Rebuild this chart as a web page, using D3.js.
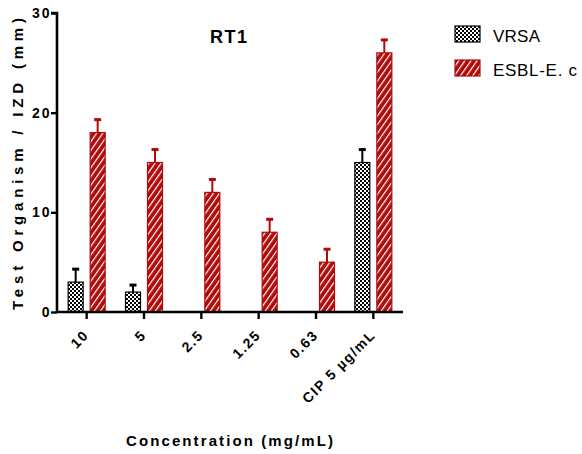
<!DOCTYPE html>
<html><head><meta charset="utf-8">
<script src="https://cdn.jsdelivr.net/npm/d3@7/dist/d3.min.js"></script>
<style>body{margin:0;background:#fff}svg{display:block}</style>
</head><body>
<script>
const categories = ["10", "5", "2.5", "1.25", "0.63", "CIP 5 µg/mL"];
const seriesNames = ["VRSA", "ESBL-E. c"];
const vrsa = [3, 2, 0, 0, 0, 15];
const vrsaErr = [1.4, 0.8, 0, 0, 0, 1.4];
const esbl = [18, 15, 12, 8, 5, 26];
const esblErr = [1.4, 1.4, 1.4, 1.4, 1.4, 1.4];
const yTicks = [0, 10, 20, 30];

const W = 582, H = 454;
const svg = d3.select("body").append("svg").attr("width", W).attr("height", H);
const font = "'Liberation Sans Narrow', 'Liberation Sans', Arial, sans-serif";

const defs = svg.append("defs");
const chk = defs.append("pattern").attr("id", "chk").attr("patternUnits", "userSpaceOnUse")
  .attr("width", 4).attr("height", 4);
chk.append("rect").attr("width", 4).attr("height", 4).attr("fill", "#fff");
chk.append("rect").attr("width", 2).attr("height", 2).attr("fill", "#000");
chk.append("rect").attr("x", 2).attr("y", 2).attr("width", 2).attr("height", 2).attr("fill", "#000");
const red = "#b00a0a";
const str = defs.append("pattern").attr("id", "str").attr("patternUnits", "userSpaceOnUse")
  .attr("width", 5).attr("height", 5).attr("patternTransform", "rotate(35)");
str.append("rect").attr("width", 5).attr("height", 5).attr("fill", red);
str.append("rect").attr("x", 0).attr("width", 1.2).attr("height", 5).attr("fill", "#fff");

const x0 = 57, x1 = 403, yTop = 13, yBot = 312;
const x = d3.scaleBand().domain(categories).range([x0 + 1, x1 - 1]).paddingInner(0).paddingOuter(0);
const y = d3.scaleLinear().domain([0, 30]).range([yBot, yTop]);
const bw = 15, off = 11;

const series = [
  {vals: vrsa, err: vrsaErr, fill: "url(#chk)", stroke: "#000", dx: -off},
  {vals: esbl, err: esblErr, fill: "url(#str)", stroke: red, dx: off}
];

series.forEach(s => {
  const g = svg.append("g");
  const cx = (c) => x(c) + x.bandwidth() / 2 + s.dx;
  const data = categories.map((c, i) => ({c, v: s.vals[i], e: s.err[i]})).filter(d => d.v > 0);
  g.selectAll("line.err").data(data).enter().append("line")
    .attr("x1", d => cx(d.c)).attr("x2", d => cx(d.c))
    .attr("y1", d => y(d.v)).attr("y2", d => y(d.v + d.e))
    .attr("stroke", s.stroke).attr("stroke-width", 2);
  g.selectAll("line.cap").data(data).enter().append("line")
    .attr("x1", d => cx(d.c) - 3.5).attr("x2", d => cx(d.c) + 3.5)
    .attr("y1", d => y(d.v + d.e) + 1).attr("y2", d => y(d.v + d.e) + 1)
    .attr("stroke", s.stroke).attr("stroke-width", 3);
  g.selectAll("rect").data(data).enter().append("rect")
    .attr("x", d => cx(d.c) - bw / 2).attr("y", d => y(d.v))
    .attr("width", bw).attr("height", d => yBot - y(d.v))
    .attr("fill", s.fill).attr("stroke", s.stroke).attr("stroke-width", 1.2);
});

// axes
const yAxis = svg.append("g").attr("transform", `translate(${x0},0)`)
  .call(d3.axisLeft(y).tickValues(yTicks).tickSize(6));
yAxis.select(".domain").attr("d", `M-6,${yTop}H0V${yBot}`).attr("stroke-width", 2.6);
yAxis.selectAll(".tick line").attr("stroke-width", 2.4);
yAxis.selectAll("text").attr("font-family", font).attr("font-size", 14).attr("font-weight", "bold")
  .attr("letter-spacing", 2).attr("fill", "#000").attr("x", -5.5);

const xAxis = svg.append("g").attr("transform", `translate(0,${yBot})`)
  .call(d3.axisBottom(x).tickSize(7));
xAxis.select(".domain").attr("d", `M${x0},0H${x1}`).attr("stroke-width", 2.6);
xAxis.selectAll(".tick line").attr("stroke-width", 2.4);
xAxis.selectAll("text").attr("font-family", font).attr("font-size", 14).attr("font-weight", "bold")
  .attr("letter-spacing", 1.5).attr("fill", "#000")
  .attr("text-anchor", "end").attr("y", 0).attr("dy", 0)
  .attr("transform", "translate(3,24) rotate(-45)");

// title
svg.append("text").attr("x", 210).attr("y", 43)
  .attr("font-family", font).attr("font-weight", "bold").attr("font-size", 18)
  .attr("textLength", 37).attr("lengthAdjust", "spacing").text("RT1");

// axis labels
svg.append("text").attr("transform", "translate(23,310) rotate(-90)")
  .attr("font-family", font).attr("font-weight", "bold").attr("font-size", 15)
  .attr("textLength", 292).attr("lengthAdjust", "spacing").text("Test Organism / IZD (mm)");
svg.append("text").attr("x", 126).attr("y", 445.5)
  .attr("font-family", font).attr("font-weight", "bold").attr("font-size", 15)
  .attr("textLength", 207).attr("lengthAdjust", "spacing").text("Concentration (mg/mL)");

// legend
const leg = svg.append("g");
const legLen = [47, 84];
[{fill: "url(#chk)", stroke: "#000"}, {fill: "url(#str)", stroke: red}].forEach((l, i) => {
  const yy = 26 + i * 34;
  leg.append("rect").attr("x", 455).attr("y", yy).attr("width", 25).attr("height", 16)
    .attr("fill", l.fill).attr("stroke", l.stroke).attr("stroke-width", 1.2);
  leg.append("text").attr("x", 493).attr("y", yy + 16).attr("font-family", font)
    .attr("font-size", 17).attr("textLength", legLen[i]).attr("lengthAdjust", "spacing")
    .text(seriesNames[i]);
});
</script>
</body></html>
